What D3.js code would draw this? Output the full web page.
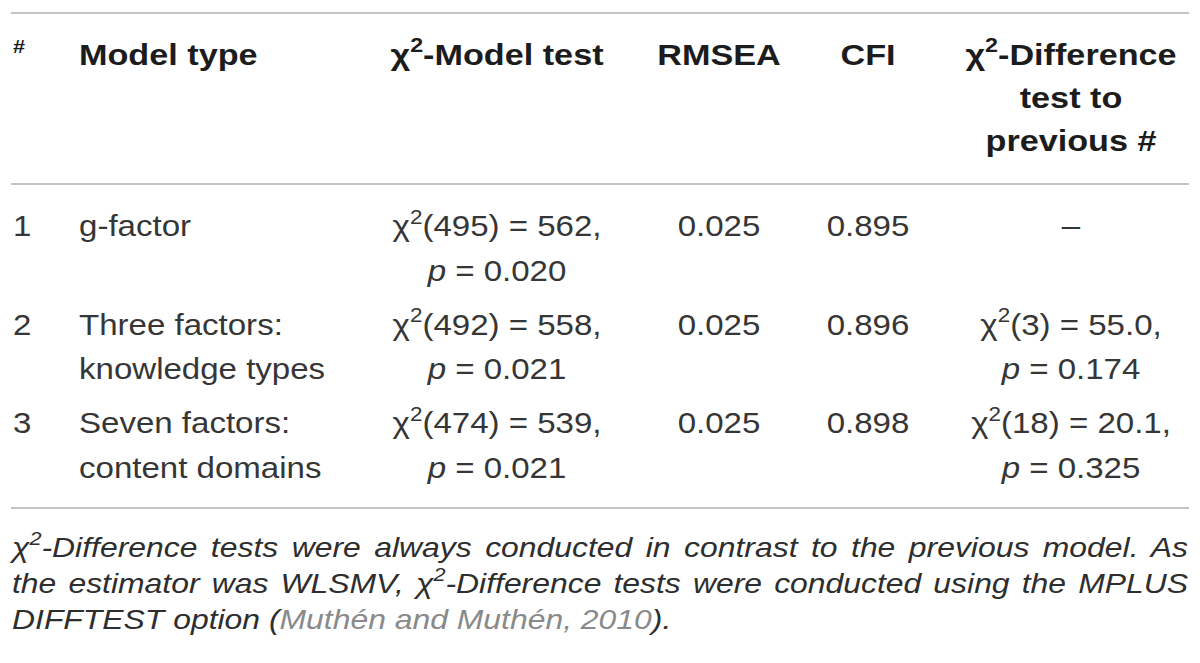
<!DOCTYPE html>
<html>
<head>
<meta charset="utf-8">
<script src="https://cdn.jsdelivr.net/npm/d3@7"></script>
<style>
  html, body { margin: 0; padding: 0; background: #fff; }
  svg { display: block; }
</style>
</head>
<body>
<div id="chart"></div>
<script>
// Table content
const headerLines = {
    num: ['#'],
    model: ['Model type'],
    chi: ['χ^2-Model test'],
    rmsea: ['RMSEA'],
    cfi: ['CFI'],
    diff: ['χ^2-Difference', 'test to', 'previous #']
};
const rowNums = ['1', '2', '3'];
const modelTypes = [['g-factor'], ['Three factors:', 'knowledge types'], ['Seven factors:', 'content domains']];
const chiDf = [495, 492, 474];
const chiValue = [562, 558, 539];
const chiP = ['0.020', '0.021', '0.021'];
const rmseaValues = ['0.025', '0.025', '0.025'];
const cfiValues = ['0.895', '0.896', '0.898'];
const diffDf = [null, 3, 18];
const diffValue = [null, '55.0', '20.1'];
const diffP = [null, '0.174', '0.325'];
const noteLines = [
    'χ^2-Difference tests were always conducted in contrast to the previous model. As',
    'the estimator was WLSMV, χ^2-Difference tests were conducted using the MPLUS',
    'DIFFTEST option (~Muthén and Muthén, 2010~).'
];

const width = 1200, height = 663;
const SX = 1.14; // source glyphs are horizontally wide

const svg = d3.select('#chart').append('svg')
    .attr('width', width)
    .attr('height', height);

// Column positions and anchors
const colKeys = ['num', 'model', 'chi', 'rmsea', 'cfi', 'diff'];
const colX = d3.scaleOrdinal().domain(colKeys).range([13, 79, 497, 719, 868, 1071]);
const colAnchor = d3.scaleOrdinal().domain(colKeys).range(['start', 'start', 'middle', 'middle', 'middle', 'middle']);

const rowY = d3.scaleLinear().domain([0, rowNums.length - 1]).range([236, 433]);
const bodyLineGap = 44.5;
const headLineY = d3.scaleLinear().domain([0, 1]).range([65, 108]);

// Parse "^2" superscripts, "*...*" italics, "~...~" citation colour
function parse(str) {
    const out = [];
    str.split(/(\^\d|\*[^*]*\*|~[^~]*~)/).forEach(tok => {
        if (!tok) return;
        if (tok[0] === '^') out.push({ t: tok.slice(1), sup: true });
        else if (tok[0] === '*') out.push({ t: tok.slice(1, -1), it: true });
        else if (tok[0] === '~') out.push({ t: tok.slice(1, -1), cite: true });
        else out.push({ t: tok });
    });
    return out;
}

function drawText(x, y, anchor, str, o) {
    const sx = o.sx || SX;
    const text = svg.append('text')
        .attr('transform', `translate(${x},${y}) scale(${sx},1)`)
        .attr('text-anchor', anchor)
        .attr('font-family', '"Liberation Sans", Arial, Helvetica, sans-serif')
        .attr('font-size', o.size)
        .attr('font-weight', o.weight || 'normal')
        .attr('font-style', o.italic ? 'italic' : 'normal')
        .attr('fill', o.color);
    let raised = 0;
    parse(str).forEach(s => {
        const ts = text.append('tspan').text(s.t);
        if (s.sup) {
            const shift = o.size * 0.42;
            ts.attr('font-size', o.size * 0.68).attr('dy', -shift);
            raised = shift;
        } else if (raised) {
            ts.attr('dy', raised);
            raised = 0;
        }
        if (s.it) ts.attr('font-style', 'italic');
        if (s.cite) ts.attr('fill', '#8a8a8a');
    });
    // justify to a right edge by spreading the word gaps
    if (o.justifyTo) {
        const natural = text.node().getComputedTextLength();
        const gaps = (str.match(/ /g) || []).length;
        const extra = ((o.justifyTo - x) / sx - natural) / gaps;
        if (extra > 0) text.attr('word-spacing', extra);
    }
    return text;
}

// Rules
const rules = [13, 184, 508];
svg.selectAll('line.rule')
    .data(rules)
    .enter()
    .append('line')
    .attr('class', 'rule')
    .attr('x1', 11)
    .attr('x2', 1189)
    .attr('y1', d => d)
    .attr('y2', d => d)
    .attr('stroke', '#c4c4c4')
    .attr('stroke-width', 2);

// Header
const headStyle = { size: 30, weight: 'bold', color: '#1c1c1c' };
colKeys.forEach(k => {
    headerLines[k].forEach((line, i) => {
        if (k === 'num') {
            drawText(colX(k), 53, 'start', line, { size: 19, weight: 'bold', color: '#1c1c1c' });
        } else {
            drawText(colX(k), headLineY(i), colAnchor(k), line, headStyle);
        }
    });
});

// Body
const bodyStyle = { size: 29, color: '#363636' };
rowNums.forEach((n, r) => {
    const y0 = rowY(r);
    const cells = {
        num: [n],
        model: modelTypes[r],
        chi: [`χ^2(${chiDf[r]}) = ${chiValue[r]},`, `*p* = ${chiP[r]}`],
        rmsea: [rmseaValues[r]],
        cfi: [cfiValues[r]],
        diff: diffDf[r] === null ? ['–'] : [`χ^2(${diffDf[r]}) = ${diffValue[r]},`, `*p* = ${diffP[r]}`]
    };
    colKeys.forEach(k => {
        cells[k].forEach((line, i) => {
            drawText(colX(k), y0 + i * bodyLineGap, colAnchor(k), line, bodyStyle);
        });
    });
});

// Footnote (justified, last line ragged)
const noteY = d3.scaleLinear().domain([0, 1]).range([557, 593]);
noteLines.forEach((line, i) => {
    drawText(12, noteY(i), 'start', line, {
        size: 27.5,
        sx: 1.16,
        italic: true,
        color: '#2e2e2e',
        justifyTo: i < noteLines.length - 1 ? 1188 : null
    });
});
</script>
</body>
</html>
